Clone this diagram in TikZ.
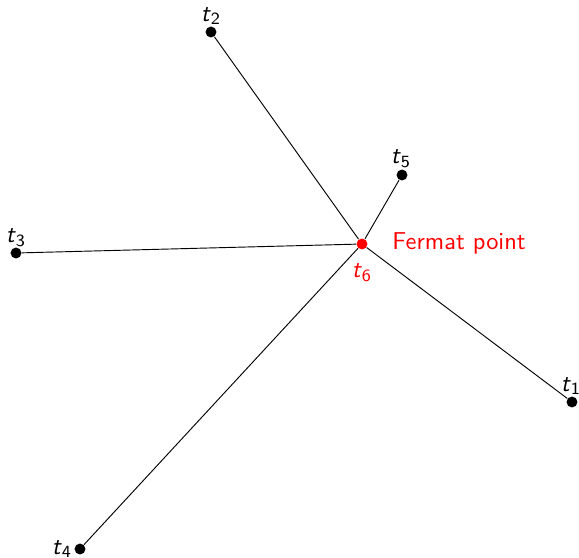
\documentclass[tikz,border=0pt]{standalone}
\begin{document}
\begin{tikzpicture}[x=0.43pt,y=-0.43pt,
  pt/.style={circle,fill=black,inner sep=0pt,minimum size=4.7pt},
  fpt/.style={pt,fill=red},
  lbl/.style={font=\sffamily\fontsize{10.5}{12}\selectfont,inner sep=0pt},
  edge/.style={line width=0.4pt}]
\newcommand{\tlab}[1]{\textit{t}\textsubscript{#1}}
\useasboundingbox (0,0) rectangle (579,558);
\node[pt] (t1) at (572,402) {};
\node[pt] (t2) at (211,32) {};
\node[pt] (t3) at (16,253) {};
\node[pt] (t4) at (80,549) {};
\node[pt] (t5) at (402,175) {};
\node[fpt] (t6) at (362,244) {};
\draw[edge] (t6) -- (t1);
\draw[edge] (t6) -- (t2);
\draw[edge] (t6) -- (t3);
\draw[edge] (t6) -- (t4);
\draw[edge] (t6) -- (t5);
\node[lbl] (l1) at (571,386) {\tlab{1}};
\node[lbl] (l2) at (211,16) {\tlab{2}};
\node[lbl] (l3) at (16,238) {\tlab{3}};
\node[lbl] (l4) at (62,549) {\tlab{4}};
\node[lbl] (l5) at (401,159) {\tlab{5}};
\node[lbl,text=red] (l6) at (362,273) {\tlab{6}};
\node[lbl,text=red,anchor=west] (fp) at (392,243) {Fermat point};
\end{tikzpicture}
\end{document}
